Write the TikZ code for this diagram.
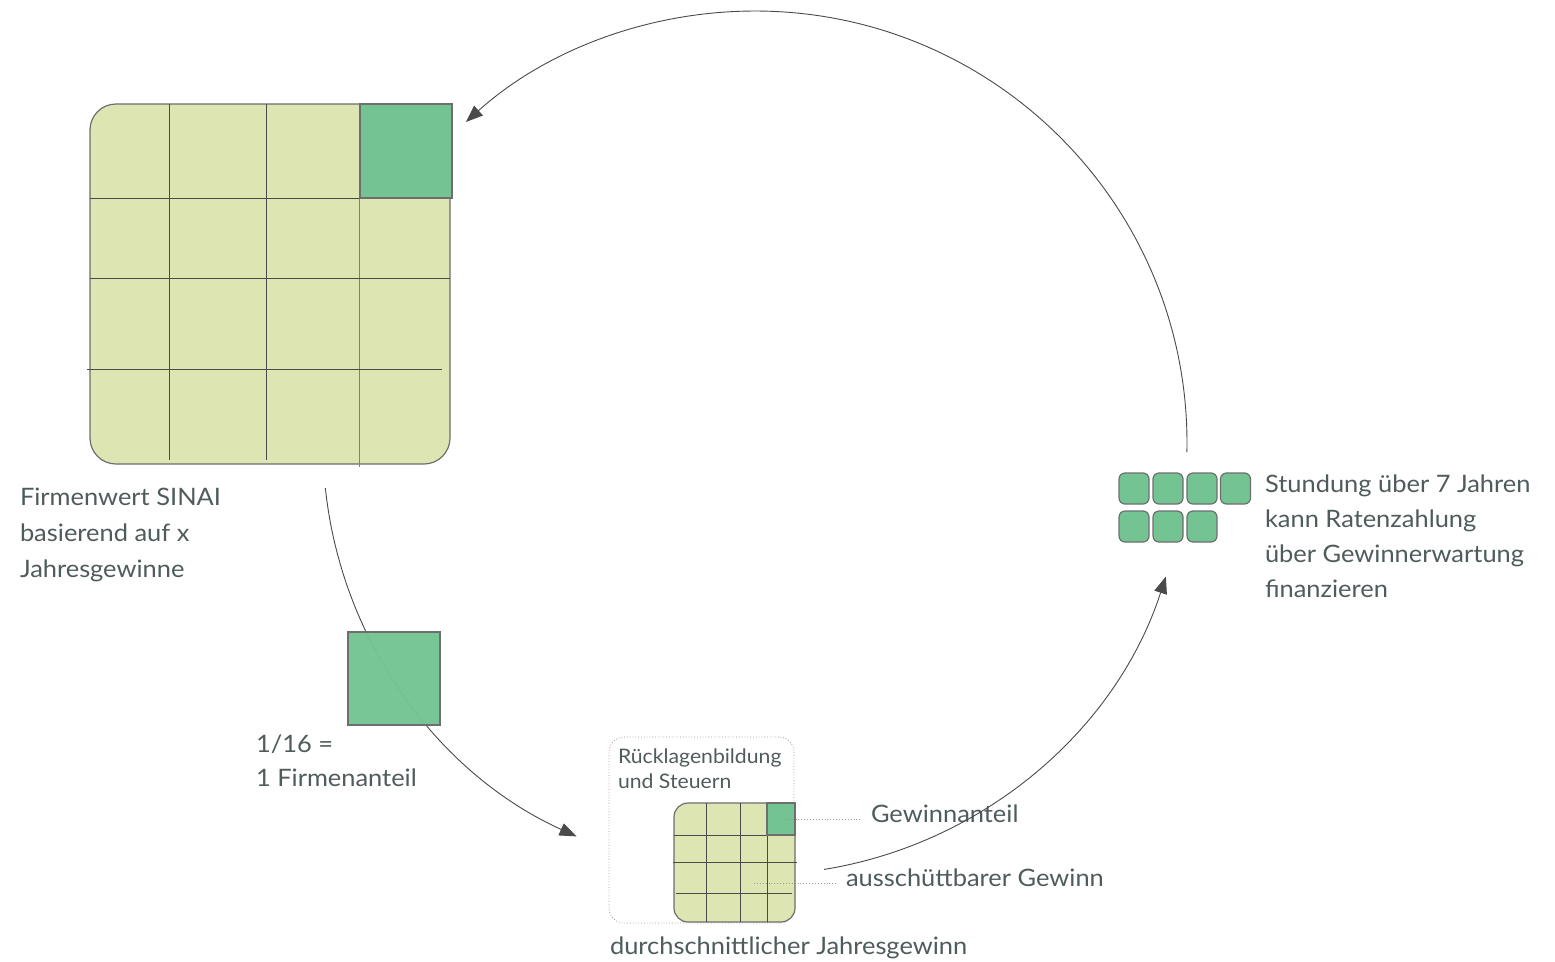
\documentclass[tikz,border=0pt]{standalone}
\usepackage{fontspec}
\setmainfont{Lato}[FakeStretch=1.06]
\usetikzlibrary{arrows.meta,calc}
\definecolor{pale}{HTML}{DDE6B3}
\definecolor{leaf}{HTML}{74C493}
\definecolor{edge}{HTML}{6E6E6E}
\definecolor{ink}{HTML}{505C5C}
\definecolor{wire}{HTML}{4A4A4A}
\begin{document}
\begin{tikzpicture}[x=1pt,y=1pt,
  lbl/.style={anchor=base west, inner sep=0pt, outer sep=0pt, text=ink,
    font=\fontsize{24}{36}\selectfont},
  smalllbl/.style={anchor=base west, inner sep=0pt, outer sep=0pt, text=ink,
    font=\fontsize{20}{24}\selectfont},
  flow/.style={draw=wire, line width=0.9pt, -{Triangle[length=17pt,width=13pt]}},
  gridline/.style={draw=wire, line width=1pt},
  tile/.style={draw=edge, line width=1.2pt, inner sep=0pt, outer sep=0pt},
  chip/.style={tile, fill=leaf, rounded corners=6pt, minimum width=30pt, minimum height=31pt},
  lead/.style={draw=gray!80, line width=0.9pt, dotted},
]
\fill[white] (0,0) rectangle (1555,-961);
\useasboundingbox (0,0) rectangle (1555,-961);

% centre of the cycle
\coordinate (O) at (755,-443);

% company value: 4 x 4 grid
\node[tile, fill=pale, rounded corners=26pt, minimum width=360pt, minimum height=360pt]
  (value) at (270,-284) {};
\draw[gridline] (169,-104) -- (169,-460);
\draw[gridline] (266,-104) -- (266,-460);
\draw[gridline, draw=gray] (359,-198) -- (359,-467);
\draw[gridline] (90,-198) -- (450,-198);
\draw[gridline] (90,-278) -- (450,-278);
\draw[gridline] (87,-369) -- (442,-369);
\node[tile, fill=leaf, minimum width=92pt, minimum height=94pt] (piece) at (406,-151) {};

\node[lbl] (v1) at (20,-505) {Firmenwert SINAI};
\node[lbl] (v2) at (20,-541) {basierend auf x};
\node[lbl] (v3) at (20,-577) {Jahresgewinne};

% value -> one share
\coordinate (l0) at ($(O)+(186:432)$);
\draw[flow] (l0) arc[start angle=186, end angle=245.6, radius=432];
\node[tile, fill=leaf, fill opacity=0.97, minimum width=92pt, minimum height=93pt]
  (share) at (394,-678.5) {};
\node[lbl] (s1) at (256,-752) {1/16 =};
\node[lbl] (s2) at (256,-786) {1 Firmenanteil};

% average annual profit
\node[draw=gray!80, line width=0.8pt, dotted, rounded corners=15pt, inner sep=0pt,
  minimum width=185pt, minimum height=186pt] (reserve) at (701.5,-830) {};
\node[smalllbl] (r1) at (618,-763) {Rücklagenbildung};
\node[smalllbl] (r2) at (618,-788) {und Steuern};

\node[tile, fill=pale, rounded corners=14pt, minimum width=121pt, minimum height=119pt]
  (profit) at (734.5,-862.5) {};
\draw[gridline] (706,-803) -- (706,-922);
\draw[gridline] (740,-803) -- (740,-922);
\draw[gridline] (767,-803) -- (767,-922);
\draw[gridline] (674,-835) -- (795,-835);
\draw[gridline] (673,-862) -- (797,-862);
\draw[gridline] (676,-893) -- (792,-893);
\node[tile, fill=leaf, minimum width=28pt, minimum height=32pt] (cut) at (781,-819) {};

\coordinate (payout) at (754,-883);
\coordinate (e1) at (862,-819);
\coordinate (e2) at (836,-883);
\draw[lead] (cut.center) -- (e1);
\draw[lead] (payout) -- (e2);
\node[lbl] (g1) at (871,-822) {Gewinnanteil};
\node[lbl] (g2) at (846,-886) {ausschüttbarer Gewinn};
\node[lbl] (g3) at (610,-954) {durchschnittlicher Jahresgewinn};

% profit -> instalments
\coordinate (r0) at ($(O)+(-80.8:432)$);
\draw[flow] (r0) arc[start angle=-80.8, end angle=-18, radius=432];

% seven yearly instalments
\node[chip] (c1) at (1134,-488.5) {};
\node[chip] (c2) at (1168,-488.5) {};
\node[chip] (c3) at (1202,-488.5) {};
\node[chip] (c4) at (1235.5,-488.5) {};
\node[chip] (c5) at (1134,-526.5) {};
\node[chip] (c6) at (1168,-526.5) {};
\node[chip] (c7) at (1202,-526.5) {};

\node[lbl] (t1) at (1265,-492) {Stundung über 7 Jahren};
\node[lbl] (t2) at (1265,-527) {kann Ratenzahlung};
\node[lbl] (t3) at (1265,-562) {über Gewinnerwartung};
\node[lbl] (t4) at (1265,-597) {finanzieren};

% instalments -> back to company value
\coordinate (t0) at ($(O)+(-1.2:432)$);
\draw[flow] (t0) arc[start angle=-1.2, end angle=132, radius=432];
\end{tikzpicture}
\end{document}
